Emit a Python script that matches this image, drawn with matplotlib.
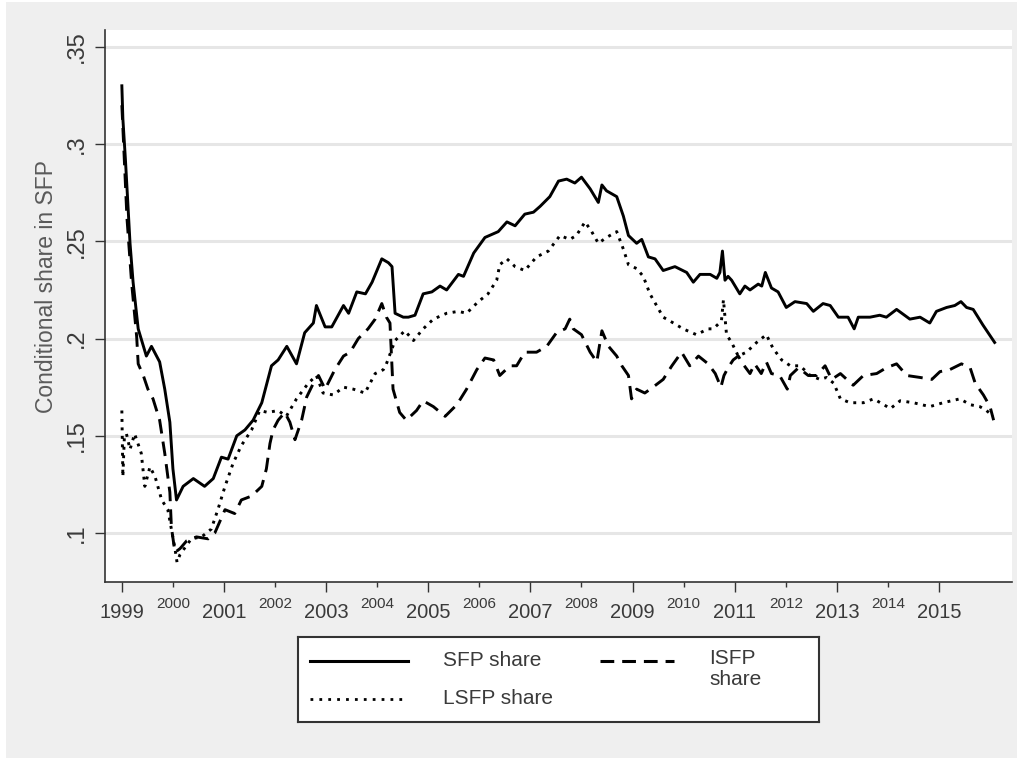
import matplotlib
matplotlib.use("Agg")
import matplotlib.pyplot as plt
from matplotlib.patches import Rectangle
from matplotlib.ticker import FixedLocator, FixedFormatter

plt.rcParams['font.family'] = ['Liberation Sans', 'DejaVu Sans']

# SFP share (monthly, read in fractional years)
sfp_t = [1999.00, 1999.02, 1999.07, 1999.11, 1999.16, 1999.22, 1999.32, 1999.48, 1999.58, 1999.74,
         1999.84, 1999.94, 2000.00, 2000.07, 2000.20, 2000.40, 2000.62, 2000.79, 2000.95, 2001.08,
         2001.25, 2001.41, 2001.57, 2001.74, 2001.93, 2002.06, 2002.23, 2002.42, 2002.58, 2002.75,
         2002.81, 2002.98, 2003.11, 2003.34, 2003.44, 2003.60, 2003.77, 2003.90, 2004.09, 2004.22,
         2004.29, 2004.35, 2004.51, 2004.61, 2004.74, 2004.90, 2005.07, 2005.23, 2005.36, 2005.59,
         2005.69, 2005.89, 2006.11, 2006.37, 2006.54, 2006.70, 2006.89, 2007.06, 2007.19, 2007.38,
         2007.55, 2007.71, 2007.87, 2008.00, 2008.17, 2008.33, 2008.40, 2008.49, 2008.69, 2008.82,
         2008.92, 2009.08, 2009.18, 2009.31, 2009.44, 2009.60, 2009.83, 2010.06, 2010.19, 2010.32,
         2010.52, 2010.65, 2010.71, 2010.76, 2010.81, 2010.87, 2010.94, 2011.10, 2011.20, 2011.30,
         2011.46, 2011.53, 2011.60, 2011.72, 2011.85, 2012.01, 2012.18, 2012.41, 2012.54, 2012.73,
         2012.87, 2013.03, 2013.22, 2013.34, 2013.42, 2013.65, 2013.84, 2013.97, 2014.17, 2014.43,
         2014.63, 2014.82, 2014.95, 2015.15, 2015.31, 2015.43, 2015.54, 2015.67, 2015.86, 2016.09]
sfp_v = [0.330, 0.313, 0.292, 0.273, 0.249, 0.229, 0.205, 0.191, 0.196, 0.188,
         0.174, 0.157, 0.133, 0.117, 0.124, 0.128, 0.124, 0.128, 0.139, 0.138,
         0.150, 0.153, 0.158, 0.167, 0.186, 0.189, 0.196, 0.187, 0.203, 0.208,
         0.217, 0.206, 0.206, 0.217, 0.213, 0.224, 0.223, 0.229, 0.241, 0.239,
         0.237, 0.213, 0.211, 0.211, 0.212, 0.223, 0.224, 0.227, 0.225, 0.233,
         0.232, 0.244, 0.252, 0.255, 0.260, 0.258, 0.264, 0.265, 0.268, 0.273,
         0.281, 0.282, 0.280, 0.283, 0.277, 0.270, 0.279, 0.276, 0.273, 0.263,
         0.253, 0.249, 0.251, 0.242, 0.241, 0.235, 0.237, 0.234, 0.229, 0.233,
         0.233, 0.231, 0.234, 0.245, 0.230, 0.232, 0.230, 0.223, 0.227, 0.225,
         0.228, 0.227, 0.234, 0.226, 0.224, 0.216, 0.219, 0.218, 0.214, 0.218,
         0.217, 0.211, 0.211, 0.205, 0.211, 0.211, 0.212, 0.211, 0.215, 0.210,
         0.211, 0.208, 0.214, 0.216, 0.217, 0.219, 0.216, 0.215, 0.207, 0.198]

# LSFP share
lsfp_t = [1999.00, 1999.02, 1999.05, 1999.09, 1999.16, 1999.25, 1999.38, 1999.45, 1999.55, 1999.65,
          1999.78, 1999.90, 1999.97, 2000.04, 2000.08, 2000.14, 2000.36, 2000.56, 2000.75, 2000.88,
          2001.02, 2001.18, 2001.34, 2001.54, 2001.70, 2001.86, 2002.06, 2002.22, 2002.42, 2002.65,
          2002.81, 2002.94, 2003.14, 2003.34, 2003.53, 2003.76, 2003.96, 2004.12, 2004.18, 2004.35,
          2004.54, 2004.71, 2004.90, 2005.10, 2005.36, 2005.59, 2005.75, 2005.98, 2006.17, 2006.34,
          2006.40, 2006.54, 2006.70, 2006.89, 2007.12, 2007.35, 2007.58, 2007.77, 2007.90, 2008.07,
          2008.20, 2008.33, 2008.49, 2008.69, 2008.82, 2008.92, 2009.08, 2009.21, 2009.34, 2009.47,
          2009.60, 2009.80, 2009.99, 2010.25, 2010.48, 2010.58, 2010.74, 2010.78, 2010.84, 2010.94,
          2011.07, 2011.23, 2011.43, 2011.62, 2011.75, 2011.92, 2012.09, 2012.28, 2012.48, 2012.67,
          2012.80, 2012.94, 2013.07, 2013.26, 2013.52, 2013.72, 2014.05, 2014.24, 2014.50, 2014.82,
          2015.08, 2015.41, 2015.61, 2015.80, 2015.93, 2016.06]
lsfp_v = [0.163, 0.129, 0.150, 0.151, 0.143, 0.151, 0.141, 0.124, 0.134, 0.129,
          0.117, 0.112, 0.102, 0.092, 0.085, 0.089, 0.097, 0.098, 0.102, 0.112,
          0.124, 0.136, 0.145, 0.153, 0.163, 0.162, 0.163, 0.160, 0.169, 0.177,
          0.181, 0.172, 0.171, 0.175, 0.174, 0.172, 0.182, 0.184, 0.187, 0.199,
          0.204, 0.199, 0.205, 0.210, 0.213, 0.214, 0.213, 0.219, 0.223, 0.230,
          0.238, 0.241, 0.237, 0.235, 0.242, 0.245, 0.253, 0.251, 0.253, 0.260,
          0.255, 0.249, 0.252, 0.255, 0.246, 0.238, 0.236, 0.232, 0.223, 0.217,
          0.211, 0.208, 0.205, 0.202, 0.205, 0.205, 0.209, 0.220, 0.202, 0.198,
          0.191, 0.193, 0.198, 0.202, 0.195, 0.189, 0.186, 0.186, 0.181, 0.179,
          0.180, 0.177, 0.169, 0.167, 0.167, 0.169, 0.164, 0.168, 0.167, 0.165,
          0.167, 0.169, 0.166, 0.165, 0.163, 0.160]

# ISFP share
isfp_t = [1999.00, 1999.10, 1999.19, 1999.29, 1999.32, 1999.42, 1999.51, 1999.61, 1999.74, 1999.84,
          1999.94, 1999.97, 2000.04, 2000.14, 2000.27, 2000.46, 2000.69, 2000.82, 2001.02, 2001.21,
          2001.34, 2001.54, 2001.74, 2001.83, 2001.90, 2001.96, 2002.06, 2002.19, 2002.29, 2002.39,
          2002.52, 2002.62, 2002.75, 2002.85, 2002.98, 2003.17, 2003.34, 2003.47, 2003.63, 2003.82,
          2003.96, 2004.09, 2004.18, 2004.25, 2004.28, 2004.31, 2004.44, 2004.57, 2004.77, 2004.90,
          2005.10, 2005.33, 2005.56, 2005.75, 2005.95, 2006.11, 2006.28, 2006.40, 2006.60, 2006.73,
          2006.89, 2007.12, 2007.32, 2007.51, 2007.68, 2007.77, 2007.84, 2008.00, 2008.17, 2008.30,
          2008.40, 2008.53, 2008.69, 2008.79, 2008.92, 2008.98, 2009.08, 2009.24, 2009.40, 2009.60,
          2009.77, 2009.96, 2010.12, 2010.29, 2010.48, 2010.62, 2010.73, 2010.79, 2010.87, 2010.97,
          2011.07, 2011.16, 2011.30, 2011.39, 2011.52, 2011.62, 2011.72, 2011.88, 2012.03, 2012.09,
          2012.25, 2012.44, 2012.60, 2012.77, 2012.90, 2013.07, 2013.32, 2013.52, 2013.78, 2013.97,
          2014.17, 2014.37, 2014.63, 2014.86, 2015.02, 2015.21, 2015.44, 2015.61, 2015.71, 2015.87,
          2016.00, 2016.07]
isfp_v = [0.320, 0.262, 0.229, 0.201, 0.187, 0.181, 0.174, 0.169, 0.158, 0.141,
          0.121, 0.103, 0.090, 0.092, 0.096, 0.098, 0.097, 0.100, 0.112, 0.110,
          0.117, 0.119, 0.124, 0.133, 0.146, 0.153, 0.158, 0.162, 0.157, 0.148,
          0.158, 0.170, 0.177, 0.181, 0.174, 0.184, 0.191, 0.193, 0.200, 0.205,
          0.210, 0.218, 0.211, 0.208, 0.191, 0.174, 0.162, 0.158, 0.163, 0.168,
          0.165, 0.160, 0.166, 0.174, 0.184, 0.190, 0.189, 0.181, 0.186, 0.186,
          0.193, 0.193, 0.196, 0.203, 0.205, 0.210, 0.205, 0.202, 0.193, 0.188,
          0.204, 0.196, 0.191, 0.186, 0.181, 0.169, 0.174, 0.172, 0.175, 0.179,
          0.186, 0.193, 0.186, 0.191, 0.187, 0.182, 0.175, 0.181, 0.185, 0.189,
          0.191, 0.187, 0.182, 0.187, 0.182, 0.188, 0.182, 0.181, 0.174, 0.181,
          0.185, 0.181, 0.181, 0.186, 0.179, 0.182, 0.176, 0.181, 0.182, 0.185,
          0.187, 0.181, 0.180, 0.179, 0.183, 0.184, 0.187, 0.185, 0.177, 0.171,
          0.165, 0.158]

odd_years = list(range(1999, 2016, 2))
even_years = list(range(2000, 2015, 2))
y_ticks = [0.1, 0.15, 0.2, 0.25, 0.3, 0.35]
y_tick_labels = ['.1', '.15', '.2', '.25', '.3', '.35']

W, H = 1024, 758
fig = plt.figure(figsize=(W / 100, H / 100), dpi=100)
fig.patch.set_facecolor('white')
fig.patches.append(Rectangle((6 / W, 0), 1011 / W, 756 / H, transform=fig.transFigure,
                             facecolor='#efefef', edgecolor='none', zorder=-10))

ax = fig.add_axes([105 / W, 1 - 582 / H, 907 / W, 552 / H])
ax.set_facecolor('white')

ax.plot(sfp_t, sfp_v, color='black', lw=2.1, solid_joinstyle='round')
ax.plot(isfp_t, isfp_v, color='black', lw=2.1, linestyle=(0, (5, 2.8)))
ax.plot(lsfp_t, lsfp_v, color='black', lw=2.1, linestyle=(0, (1, 1.9)))

ax.set_xlim(1998.67, 2016.43)
ax.set_ylim(0.0748, 0.3587)

for s in ['top', 'right']:
    ax.spines[s].set_visible(False)
for s in ['left', 'bottom']:
    ax.spines[s].set_color('#333333')
    ax.spines[s].set_linewidth(1.2)

ax.set_yticks(y_ticks)
ax.set_yticklabels(y_tick_labels)
ax.yaxis.grid(True, color='#e6e6e6', lw=2.2)
ax.set_axisbelow(True)
ax.tick_params(axis='y', length=7, width=1, color='#333333', labelsize=17,
               labelcolor='#3a3a3a', pad=5, labelrotation=90)
for lab in ax.get_yticklabels():
    lab.set_va('center')

ax.xaxis.set_major_locator(FixedLocator(odd_years))
ax.xaxis.set_major_formatter(FixedFormatter([str(y) for y in odd_years]))
ax.xaxis.set_minor_locator(FixedLocator(even_years))
ax.xaxis.set_minor_formatter(FixedFormatter([str(y) for y in even_years]))
ax.tick_params(axis='x', which='major', length=7, width=1, color='#333333',
               labelsize=14.5, labelcolor='#3a3a3a', pad=8)
ax.tick_params(axis='x', which='minor', length=3.6, width=1, color='#333333',
               labelsize=11, labelcolor='#3a3a3a', pad=7)

ax.set_ylabel('Conditional share in SFP', fontsize=16.5, color='#5a5a5a')
ax.yaxis.set_label_coords(-0.052, 0.535)

# legend box
lx0, ly0, lx1, ly1 = 298, 637, 819, 722
lax = fig.add_axes([lx0 / W, 1 - ly1 / H, (lx1 - lx0) / W, (ly1 - ly0) / H])
lax.set_xlim(0, lx1 - lx0)
lax.set_ylim(ly1 - ly0, 0)
lax.set_xticks([])
lax.set_yticks([])
for s in lax.spines.values():
    s.set_color('#333333')
    s.set_linewidth(1.5)
lax.plot([12, 110], [24, 24], color='black', lw=2.2)
lax.plot([12, 106], [62, 62], color='black', lw=2.0, linestyle=(0, (1, 2.2)))
lax.plot([302, 376], [24, 24], color='black', lw=2.2, linestyle=(0, (4.5, 2.6)))
lax.text(145, 24, 'SFP share', fontsize=15, color='#3a3a3a', va='center', ha='left')
lax.text(145, 62, 'LSFP share', fontsize=15, color='#3a3a3a', va='center', ha='left')
lax.text(411, 12, 'ISFP\nshare', fontsize=15, color='#3a3a3a', va='top', ha='left',
         linespacing=1.15)

fig.savefig('out.png', dpi=100)
